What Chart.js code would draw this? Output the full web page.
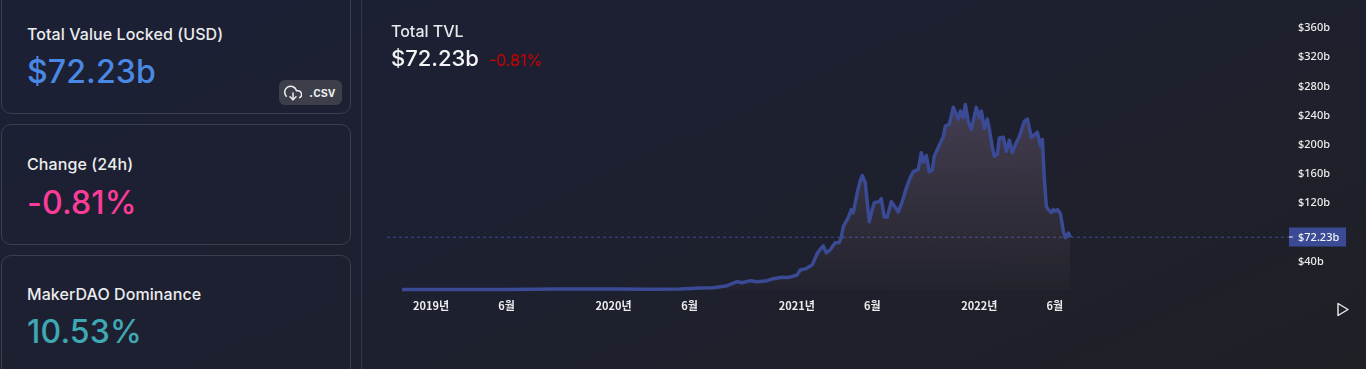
<!DOCTYPE html>
<html><head><meta charset="utf-8">
<script src="https://cdn.jsdelivr.net/npm/chart.js@4"></script>
<style>
html,body{margin:0;padding:0;width:1366px;height:369px;overflow:hidden;background:#1d2029;font-family:Inter,sans-serif;color:#eee}
#bg{position:absolute;inset:0;background:linear-gradient(155deg,#1c2035 0%,#1d2030 45%,#1f2026 100%)}
.card{position:absolute;left:1px;width:348px;border:1px solid #3b3e4b;border-radius:10px;box-sizing:content-box}
.t{position:absolute;left:25px;font-size:16px;font-weight:500;letter-spacing:.08px;color:#ececee;white-space:nowrap;line-height:18px}
.v{position:absolute;left:25px;font-size:32px;font-weight:500;letter-spacing:.15px;white-space:nowrap;line-height:38px}
#divider{position:absolute;left:361px;top:0;width:1px;height:369px;background:#35384a}
#btn{position:absolute;left:279px;top:80px;width:63px;height:25px;border-radius:6px;background:#3c3f49;color:#eee;font-size:13px;font-weight:600;line-height:25px}
#btn svg{position:absolute;left:5px;top:4px}
#btn span{position:absolute;left:30px}
#c{position:absolute;left:362px;top:0}
.h{position:absolute;white-space:nowrap}
</style></head><body>
<div id="bg"></div>
<div class="card" style="top:-20px;height:132px"><div class="t" style="top:44px">Total Value Locked (USD)</div><div class="v" style="top:72px;color:#4a89e3">$72.23b</div></div>
<div class="card" style="top:124px;height:119px"><div class="t" style="top:30px">Change (24h)</div><div class="v" style="top:59px;color:#fd3c99">-0.81%</div></div>
<div class="card" style="top:255px;height:140px"><div class="t" style="top:29px">MakerDAO Dominance</div><div class="v" style="top:57px;color:#3fa8b4">10.53%</div></div>
<div id="btn"><svg width="18" height="18" viewBox="0 0 24 24" fill="none" stroke="#eee" stroke-width="2" stroke-linecap="round" stroke-linejoin="round"><polyline points="8 17 12 21 16 17"/><line x1="12" y1="12" x2="12" y2="21"/><path d="M20.9 18.3A5 5 0 0 0 18 9h-1.3A8 8 0 1 0 3 16.3"/></svg><span>.csv</span></div>
<div id="divider"></div>
<canvas id="c" width="1004" height="369" style="width:1004px;height:369px"></canvas>
<div class="h" style="left:391px;top:22px;font-size:16px;font-weight:500;color:#e8e8ea;line-height:19px">Total TVL</div>
<div class="h" style="left:391px;top:44px;font-size:22px;font-weight:500;color:#f4f4f6;line-height:28px">$72.23b</div>
<div class="h" style="left:489px;top:51px;font-size:16px;color:#d40000;line-height:19px">-0.81%</div>
<svg style="position:absolute;left:1336px;top:302px" width="14" height="15" viewBox="0 0 14 15" fill="none" stroke="#eee" stroke-width="1.4" stroke-linejoin="round"><polygon points="2,1.5 12,7.5 2,13.5"/></svg>
<script>
// days since 2019-01-01
const days=[-58,18,152,258,366,438,498,538,564,592,612,622,638,652,672,684,702,714,732,738,750,762,768,774,784,790,798,808,816,820,824,834,840,844,852,858,862,868,872,876,882,886,896,900,906,912,920,934,942,948,954,958,964,974,980,984,990,996,1002,1006,1014,1024,1028,1036,1044,1054,1058,1064,1068,1074,1080,1090,1096,1100,1106,1112,1116,1122,1126,1132,1136,1144,1150,1156,1162,1168,1176,1186,1192,1200,1212,1218,1222,1226,1230,1234,1240,1244,1248,1252,1258,1264,1268,1274,1278];
// total value locked, $b
const tvl=[0.7,0.7,0.7,1.4,1.4,1.2,1.4,2.7,3.2,5.9,11.4,10,12.8,11.4,12.8,15.5,17.5,17,20.6,27.5,29.3,34.4,44,52.2,60.5,50.9,55,64.6,65,72,86.6,99,110,105.8,133,150,156.7,147,119.6,93.5,110,119.6,121,125,100,100,121,107,121,135,147,154,162,165,188,175,184,162,164,183,195,210,224,227,250,234,245,236,254,230,220,250,236,245,221,234,220,195,183,186,208,209,190,205,188,199,210,231,234,209,216,197,206,151,114,110,106,110,108,110,105,80,71.5,78,72.23];
const tickDays=[0,151,365,517,731,882,1096,1247];
const tickLabels=['2019년','6월','2020년','6월','2021년','6월','2022년','6월'];
const priceTicks=[40,80,120,160,200,240,280,320,360];
const lastValue=72.23;
const lastLabel='$72.23b';
const xMin=-88,xMax=1715,yMin=-8.2,yMax=397;

const priceTag={id:'priceTag',afterDraw(ch){
  const c=ch.ctx,y=Math.round(ch.scales.y.getPixelForValue(lastValue)),l=ch.chartArea.right;
  c.save();
  c.fillStyle='#3a4a94';c.fillRect(l,y-9.5,57,19);
  c.fillStyle='#eee';c.fillRect(l,y-0.5,4,1);
  c.fillStyle='#f2f2f2';c.font='500 11px "Noto Sans"';c.textBaseline='middle';c.textAlign='left';
  c.fillText(lastLabel,l+9,y+0.5);
  c.restore();
}};
new Chart(document.getElementById('c'),{
  type:'line',
  data:{datasets:[
    {data:days.map((d,i)=>({x:d,y:tvl[i]})),borderColor:'#3a4a94',borderWidth:3.5,pointRadius:0,tension:0,borderJoinStyle:'round',fill:'origin',
     backgroundColor(ctx){const a=ctx.chart.chartArea;if(!a)return 'transparent';
       const g=ctx.chart.ctx.createLinearGradient(0,105,0,292);
       g.addColorStop(0,'rgba(205,165,210,0.22)');g.addColorStop(1,'rgba(225,175,165,0.02)');return g;}},
    {data:[{x:xMin,y:lastValue},{x:xMax,y:lastValue}],borderColor:'#3f4c90',borderWidth:1,borderDash:[3,3],pointRadius:0,fill:false}
  ]},
  options:{responsive:false,animation:false,events:[],
    layout:{padding:{left:25,right:0,top:0,bottom:0}},
    plugins:{legend:{display:false},tooltip:{enabled:false}},
    scales:{
      x:{type:'linear',min:xMin,max:xMax,grid:{display:false,drawTicks:false},border:{display:false},
        afterBuildTicks(s){s.ticks=tickDays.map(v=>({value:v}));},
        afterFit(s){s.height=73;s.paddingLeft=0;s.paddingRight=0;},
        ticks:{autoSkip:false,maxRotation:0,padding:3,color:'#ececec',font:{family:'"Noto Sans CJK KR"',size:11,weight:'700'},
          callback(v){return tickLabels[tickDays.indexOf(v)];}}},
      y:{position:'right',min:yMin,max:yMax,grid:{display:false,drawTicks:false},border:{display:false},
        afterBuildTicks(s){s.ticks=priceTicks.map(v=>({value:v}));},
        afterFit(s){s.width=77;s.paddingTop=0;s.paddingBottom=0;},
        ticks:{padding:9,labelOffset:1,color:'#ececec',font:{family:'"Noto Sans"',size:11,weight:'500'},callback(v){return '$'+v+'b';}}}
    }},
  plugins:[priceTag]
});
</script>
</body></html>
